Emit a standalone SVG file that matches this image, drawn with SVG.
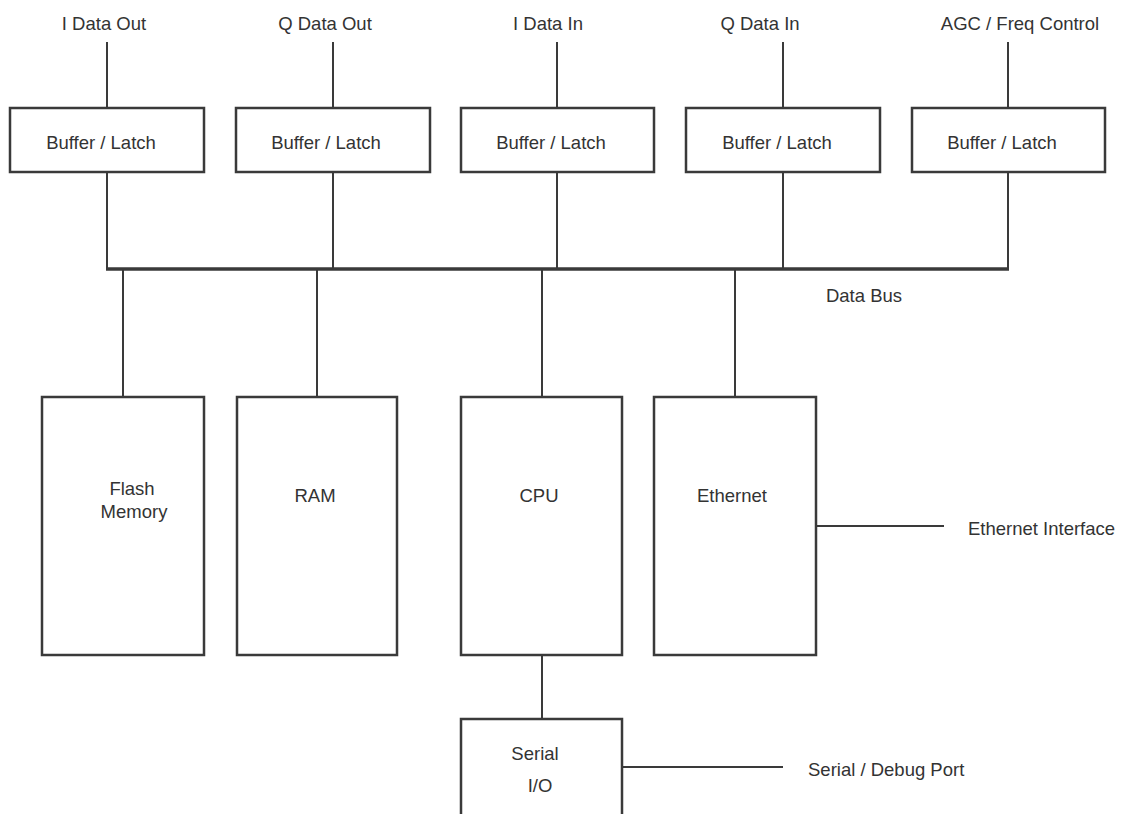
<svg xmlns="http://www.w3.org/2000/svg" width="1124" height="814" viewBox="0 0 1124 814">
<style>
.box{fill:#fff;stroke:#3a3a3a;stroke-width:2.5}
.ln{stroke:#3a3a3a;stroke-width:2;fill:none}
.bus{stroke:#3a3a3a;stroke-width:3.5;fill:none}
text{font-family:"Liberation Sans",Arial,sans-serif;font-size:18.5px;fill:#333;text-anchor:middle}
.st{text-anchor:start}
</style>
<rect width="1124" height="814" fill="#fff"/>
<g id="connectors">
<line class="ln" x1="107" y1="42" x2="107" y2="108"/>
<line class="ln" x1="333" y1="42" x2="333" y2="108"/>
<line class="ln" x1="557" y1="42" x2="557" y2="108"/>
<line class="ln" x1="783" y1="42" x2="783" y2="108"/>
<line class="ln" x1="1008" y1="42" x2="1008" y2="108"/>
<line class="ln" x1="107" y1="172" x2="107" y2="269"/>
<line class="ln" x1="333" y1="172" x2="333" y2="269"/>
<line class="ln" x1="557" y1="172" x2="557" y2="269"/>
<line class="ln" x1="783" y1="172" x2="783" y2="269"/>
<line class="ln" x1="1008" y1="172" x2="1008" y2="269"/>
<line class="bus" x1="106" y1="269" x2="1009" y2="269"/>
<line class="ln" x1="123" y1="269" x2="123" y2="397"/>
<line class="ln" x1="317" y1="269" x2="317" y2="397"/>
<line class="ln" x1="542" y1="269" x2="542" y2="397"/>
<line class="ln" x1="735" y1="269" x2="735" y2="397"/>
<line class="ln" x1="542" y1="655" x2="542" y2="719"/>
<line class="ln" x1="816" y1="526" x2="944" y2="526"/>
<line class="ln" x1="622" y1="767" x2="783" y2="767"/>
</g>
<g id="labels">
<text x="104" y="30">I Data Out</text>
<text x="325" y="30">Q Data Out</text>
<text x="548" y="30">I Data In</text>
<text x="760" y="30">Q Data In</text>
<text x="1020" y="30">AGC / Freq Control</text>
<text x="864" y="302">Data Bus</text>
<text class="st" x="968" y="535">Ethernet Interface</text>
<text class="st" x="808" y="776">Serial / Debug Port</text>
</g>
<g id="buf1"><rect class="box" x="10" y="108" width="194" height="64"/><text x="101" y="149">Buffer / Latch</text></g>
<g id="buf2"><rect class="box" x="236" y="108" width="194" height="64"/><text x="326" y="149">Buffer / Latch</text></g>
<g id="buf3"><rect class="box" x="461" y="108" width="193" height="64"/><text x="551" y="149">Buffer / Latch</text></g>
<g id="buf4"><rect class="box" x="686" y="108" width="194" height="64"/><text x="777" y="149">Buffer / Latch</text></g>
<g id="buf5"><rect class="box" x="912" y="108" width="193" height="64"/><text x="1002" y="149">Buffer / Latch</text></g>
<g id="flash"><rect class="box" x="42" y="397" width="162" height="258"/><text x="132" y="495">Flash</text><text x="134" y="518">Memory</text></g>
<g id="ram"><rect class="box" x="237" y="397" width="160" height="258"/><text x="315" y="502">RAM</text></g>
<g id="cpu"><rect class="box" x="461" y="397" width="161" height="258"/><text x="539" y="502">CPU</text></g>
<g id="ethernet"><rect class="box" x="654" y="397" width="162" height="258"/><text x="732" y="502">Ethernet</text></g>
<g id="serial"><rect class="box" x="461" y="719" width="161" height="110"/><text x="535" y="760">Serial</text><text x="540" y="792">I/O</text></g>
</svg>
